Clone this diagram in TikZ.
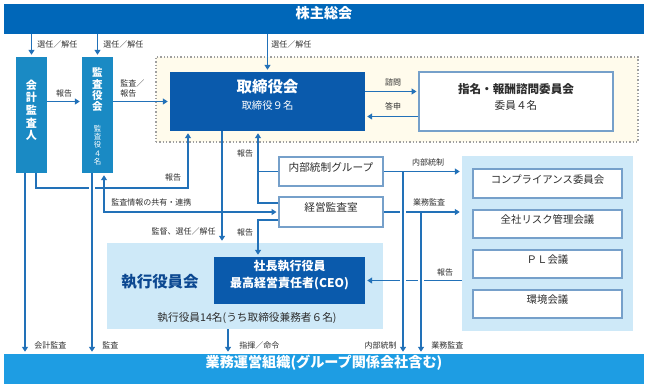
\documentclass[tikz,border=0pt]{standalone}
\usepackage{fontspec}
\setmainfont{Noto Sans CJK JP}
\usetikzlibrary{arrows.meta, fit, positioning}

\definecolor{topblue}{RGB}{0,103,185}
\definecolor{skyblue}{RGB}{30,157,227}
\definecolor{boardblue}{RGB}{10,90,172}
\definecolor{auditblue}{RGB}{26,138,196}
\definecolor{paleblue}{RGB}{206,233,248}
\definecolor{cream}{RGB}{255,251,236}
\definecolor{lineblue}{RGB}{34,113,184}
\definecolor{boxline}{RGB}{118,160,202}
\definecolor{navy}{RGB}{12,72,145}
\definecolor{ink}{RGB}{45,45,45}

\tikzset{
  >={Triangle[length=3.6pt, width=4.4pt]},
  box/.style={inner sep=0pt, align=center},
  bar/.style={box, fill=#1, text=white, font=\fontsize{10.6}{12}\selectfont\bfseries},
  vbox/.style={box, fill=auditblue, text=white},
  darkbox/.style={box, fill=boardblue, text=white},
  wbox/.style={box, draw=boxline, line width=0.8pt, fill=white, text=ink},
  panel/.style={box, fill=paleblue},
  frame/.style={box, draw=gray!75, fill=cream, line width=0.9pt, dash pattern=on 1.1pt off 1.4pt},
  vtext/.style={inner sep=0pt, align=center, text=white},
  arr/.style={draw=lineblue, line width=1pt, ->, shorten >=1.5pt},
  link/.style={draw=lineblue, line width=1pt},
  hop/.style={preaction={draw=white, line width=4pt, -, shorten <=2.5pt, shorten >=2.5pt}},
  lbl/.style={text=ink, inner sep=0pt, font=\fontsize{6}{7.5}\selectfont},
}

\begin{document}
\begin{tikzpicture}[x=0.75pt, y=-0.75pt]
  \useasboundingbox (0,0) rectangle (648,387);

  % ── Top and bottom bars ──────────────────────────────────────────
  \node[bar=topblue, fit={(4,4) (644,34)}] (agm) {株主総会};
  \node[bar=skyblue, fit={(4,354) (644,384)}] (ops) {業務運営組織(グループ関係会社含む)};

  % ── Auditors ─────────────────────────────────────────────────────
  \node[vbox, fit={(16,57) (47,173)}, font=\fontsize{8.3}{9.4}\selectfont\bfseries] (acct) {会\\計\\監\\査\\人};
  \node[vbox, fit={(82,57) (113,173)}] (audb) {};
  \node[vtext, font=\fontsize{7.9}{8.5}\selectfont\bfseries, below=8pt of audb.north] (audbname) {監\\査\\役\\会};
  \node[vtext, font=\fontsize{5.6}{6.2}\selectfont, above=6pt of audb.south] (audbcount) {監\\査\\役\\４\\名};

  % ── Board area ───────────────────────────────────────────────────
  \node[frame, fit={(156,57) (638,142)}] (boardarea) {};
  \node[darkbox, fit={(170,72) (365,131)}, font=\fontsize{7.8}{13}\selectfont] (board)
    {{\fontsize{11.6}{13}\selectfont\bfseries 取締役会}\\取締役９名};
  \node[wbox, fit={(419,72) (613,131)}, font=\fontsize{8}{12}\selectfont] (nomcom)
    {{\fontsize{8.7}{12}\selectfont\bfseries 指名・報酬諮問委員会}\\委員４名};

  % ── Internal control / management audit ──────────────────────────
  \node[wbox, fit={(279,157) (383,186)}, font=\fontsize{8}{10}\selectfont] (icg) {内部統制グループ};
  \node[wbox, fit={(279,197) (383,227)}, font=\fontsize{8}{10}\selectfont] (mao) {経営監査室};

  % ── Executive officers ───────────────────────────────────────────
  \node[panel, fit={(107,243) (383,329)}] (execb) {};
  \node[darkbox, fit={(214,257) (365,304)}, font=\fontsize{9}{12.8}\selectfont\bfseries] (ceo)
    {社長執行役員\\最高経営責任者(CEO)};
  \node[text=navy, font=\fontsize{11.6}{13}\selectfont\bfseries] (execname) at (160,282) {執行役員会};
  \node[text=ink, font=\fontsize{8}{10}\selectfont] (execcount) at (247,318) {執行役員14名(うち取締役兼務者６名)};

  % ── Committees ───────────────────────────────────────────────────
  \node[panel, fit={(462,156) (633,331)}] (cmt) {};
  \foreach \n/\ya/\yb/\t in {1/169/198/コンプライアンス委員会, 2/210/238/全社リスク管理会議,
                             3/250/278/ＰＬ会議, 4/290/318/環境会議}{
    \node[wbox, fit={(473,\ya) (622,\yb)}, font=\fontsize{7.8}{10}\selectfont] (cmt\n) {\t};
  }

  % ── Appointment arrows from the AGM ──────────────────────────────
  \draw[arr] (acct.north |- agm.south) -- (acct.north);
  \draw[arr] (audb.north |- agm.south) -- (audb.north);
  \draw[arr] (board.north |- agm.south) -- (board.north);
  \node[lbl, anchor=west] (selA) at (37,44) {選任／解任};
  \node[lbl, anchor=west] (selB) at (103,44) {選任／解任};
  \node[lbl, anchor=west] (selC) at (271,44) {選任／解任};

  % ── Audit reports towards the board ──────────────────────────────
  \draw[arr] (acct.east |- board.west) -- (audb.west |- board.west);
  \draw[arr] (audb.east |- board.west) -- (board.west);
  \node[lbl] (rptA) at (64,93) {報告};
  \node[lbl, anchor=west, align=left] (audrpt) at (120,88) {監査／\\報告};

  % ── Board and nomination committee ───────────────────────────────
  \coordinate (askA) at ([yshift=7.5pt]board.east);
  \coordinate (ansA) at ([yshift=-11.25pt]nomcom.west);
  \draw[arr] (askA) -- (askA -| nomcom.west);
  \draw[arr] (ansA) -- (ansA -| board.east);
  \node[lbl] (ask) at (393,82) {諮問};
  \node[lbl] (ans) at (393,106) {答申};

  % ── Lines below the board ────────────────────────────────────────
  \coordinate (rptturn) at (188,188);
  \draw[arr] (36,0 |- acct.south) |- (rptturn) -- (rptturn |- board.south);
  \node[lbl] (rptL) at (173,177) {報告};

  \draw[arr, <->, shorten <=1.5pt] (104,0 |- audb.south) |- (mao.west);
  \node[lbl, anchor=west] (share) at (111,202) {監査情報の共有・連携};

  \draw[arr] (222,0 |- board.south) -- (222,0 |- execb.north);
  \node[lbl, anchor=east] (supv) at (216,231) {監督、選任／解任};

  \coordinate (rptB) at ([yshift=6.75pt]mao.west);
  \coordinate (rptC) at ([yshift=-6pt]mao.west);
  \draw[arr] (icg.west) -| (258,0 |- board.south);
  \draw[link] (rptB) -| (258,0 |- icg.west);
  \draw[arr] (rptC) -| (258,0 |- ceo.north);
  \node[lbl] (rptU) at (245,153) {報告};
  \node[lbl] (rptD) at (245,232) {報告};

  % ── Towards the committees ───────────────────────────────────────
  \draw[arr] (icg.east) -- (icg.east -| cmt.west);
  \draw[arr] (mao.east) -- (mao.east -| cmt.west);
  \draw[arr] (ceo.east -| cmt.west) -- (ceo.east);
  \node[lbl] (icR) at (428,162) {内部統制};
  \node[lbl] (opR) at (429,202) {業務監査};
  \node[lbl] (rptR) at (445,272) {報告};

  % ── Down to the operating organisation ───────────────────────────
  \draw[arr] (25,0 |- acct.south) -- (25,0 |- ops.north);
  \draw[arr, hop] (92,0 |- audb.south) -- (92,0 |- ops.north);
  \draw[arr] (228,0 |- execb.south) -- (228,0 |- ops.north);
  \draw[arr, hop] (403,0 |- icg.east) -- (403,0 |- ops.north);
  \draw[arr, hop] (421,0 |- mao.east) -- (421,0 |- ops.north);
  \node[lbl, anchor=west] (accB) at (34,345) {会計監査};
  \node[lbl, anchor=west] (audB) at (102,345) {監査};
  \node[lbl, anchor=west] (cmdB) at (239,345) {指揮／命令};
  \node[lbl, anchor=east] (icB) at (397,345) {内部統制};
  \node[lbl, anchor=west] (opB) at (431,345) {業務監査};

\end{tikzpicture}
\end{document}
